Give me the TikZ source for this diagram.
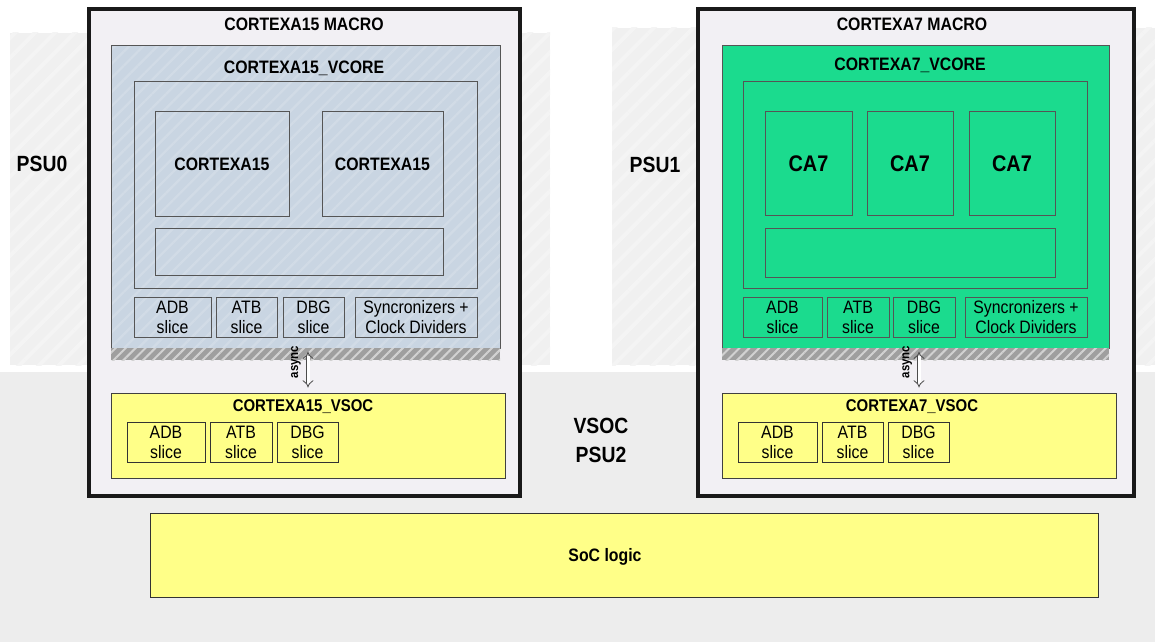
\documentclass[tikz,border=0pt]{standalone}
\usepackage{fontspec}
\setmainfont[FakeStretch=0.88]{Liberation Sans}
\usetikzlibrary{fit,patterns.meta,arrows.meta}
\definecolor{vcoreblue}{RGB}{201,213,226}
\definecolor{vcoregreen}{RGB}{27,219,142}
\definecolor{vsocyellow}{RGB}{255,255,136}
\definecolor{macrofill}{RGB}{242,240,244}
\definecolor{bandgray}{RGB}{237,237,237}
\definecolor{psugray}{RGB}{240,240,240}
\definecolor{boxline}{RGB}{85,85,85}

\begin{document}
\begin{tikzpicture}[x=0.5pt,y=-0.5pt,
	blk/.style={draw=boxline, line width=0.5pt, inner sep=0pt},
	slice/.style={blk},
	stext/.style={align=center, inner sep=0pt, font=\fontsize{9}{10}\selectfont},
	ttl/.style={font=\bfseries\fontsize{9}{10}\selectfont},
	cpu/.style={inner sep=0pt, font=\bfseries\fontsize{11.3}{12}\selectfont},
	psu/.style={font=\bfseries\fontsize{11}{12}\selectfont},
	band/.style={fill=psugray, postaction={pattern={Lines[angle=45,distance=7pt,line width=2pt]}, pattern color=white!25!psugray}},
	hatch/.style={inner sep=0pt, fill=gray!75, postaction={pattern={Lines[angle=45,distance=3.5pt,line width=1pt]}, pattern color=gray!35}},
	macro/.style={draw=black!90, line width=2pt, fill=macrofill, inner sep=0pt},
	sync/.style={double=white, draw=gray!60!black, double distance=1.5pt, line width=0.4pt, {Implies}-{Implies}, shorten <=2pt, shorten >=2.5pt}
	]

	\useasboundingbox (0,0) rectangle (1155,642);
	\fill[white] (0,0) rectangle (1155,642);
	\fill[bandgray] (0,372) rectangle (1155,642);
	\path[band] (10,33) rectangle (550,365);
	\path[band] (612,28) rectangle (1155,365);

	% CORTEXA15 side
	\node[macro, fit={(89,9) (520,496)}] (macro15) {};
	\node[ttl] (macro15title) at (304,24) {CORTEXA15 MACRO};

	\node[blk, preaction={fill=vcoreblue}, pattern={Lines[angle=45,distance=5pt,line width=1.2pt]}, pattern color=vcoreblue!85!white, fit={(111,46) (500,348)}] (vcore15) {};
	\node[hatch, fit={(111,348) (500,360)}] (hatch15) {};
	\node[ttl] (vcore15title) at (304,68) {CORTEXA15\_VCORE};

	\node[blk, fit={(134,82) (477,288)}] (cluster15) {};
	\node[blk, fit={(155,112) (289,216)}, label={[ttl]center:CORTEXA15}] (cpu15a) {};
	\node[blk, fit={(322,112) (443,216)}, label={[ttl]center:CORTEXA15}] (cpu15b) {};
	\node[blk, fit={(155,228) (443,275)}] (l2of15) {};

	\node[slice, fit={(134,297) (211,337)}, label={[stext]center:ADB\\slice}] (adb15) {};
	\node[slice, fit={(216,297) (277,337)}, label={[stext]center:ATB\\slice}] (atb15) {};
	\node[slice, fit={(283,297) (344,337)}, label={[stext]center:DBG\\slice}] (dbg15) {};
	\node[slice, fit={(355,297) (477,337)}, label={[stext]center:Syncronizers +\\Clock Dividers}] (clk15) {};

	\node[blk, draw=black!75, fill=vsocyellow, fit={(111,393) (505,478)}] (vsoc15) {};
	\node[ttl, font=\bfseries\fontsize{8.5}{10}\selectfont] (vsoc15title) at (303,407) {CORTEXA15\_VSOC};
	\node[slice, draw=black!80, fit={(127,422) (205,462)}, label={[stext]center:ADB\\slice}] (vadb15) {};
	\node[slice, draw=black!80, fit={(210,422) (272,462)}, label={[stext]center:ATB\\slice}] (vatb15) {};
	\node[slice, draw=black!80, fit={(277,422) (338,462)}, label={[stext]center:DBG\\slice}] (vdbg15) {};

	\draw[sync] (hatch15.north -| vsoc15.north) -- (vsoc15.north) node[midway, above=4pt, rotate=90, font=\bfseries\fontsize{6.5}{7}\selectfont] (async15) {async};

	% CORTEXA7 side
	\node[macro, fit={(698,9) (1134,496)}] (macro7) {};
	\node[ttl] (macro7title) at (912,24) {CORTEXA7 MACRO};

	\node[blk, fill=vcoregreen, fit={(722,46) (1109,348)}] (vcore7) {};
	\node[hatch, fit={(722,348) (1109,360)}] (hatch7) {};
	\node[ttl] (vcore7title) at (910,65) {CORTEXA7\_VCORE};

	\node[blk, fit={(743,82) (1087,288)}] (cluster7) {};
	\node[blk, fit={(765,112) (852,215)}, label={[cpu]center:CA7}] (cpu7a) {};
	\node[blk, fit={(867,112) (953,215)}, label={[cpu]center:CA7}] (cpu7b) {};
	\node[blk, fit={(969,112) (1055,215)}, label={[cpu]center:CA7}] (cpu7c) {};
	\node[blk, fit={(765,228) (1055,277)}] (l2of7) {};

	\node[slice, fit={(743,297) (822,337)}, label={[stext]center:ADB\\slice}] (adb7) {};
	\node[slice, fit={(827,297) (889,337)}, label={[stext]center:ATB\\slice}] (atb7) {};
	\node[slice, fit={(893,297) (955,337)}, label={[stext]center:DBG\\slice}] (dbg7) {};
	\node[slice, fit={(965,297) (1087,337)}, label={[stext]center:Syncronizers +\\Clock Dividers}] (clk7) {};

	\node[blk, draw=black!75, fill=vsocyellow, fit={(722,393) (1116,478)}] (vsoc7) {};
	\node[ttl, font=\bfseries\fontsize{8.5}{10}\selectfont] (vsoc7title) at (912,407) {CORTEXA7\_VSOC};
	\node[slice, draw=black!80, fit={(738,422) (817,462)}, label={[stext]center:ADB\\slice}] (vadb7) {};
	\node[slice, draw=black!80, fit={(822,422) (883,462)}, label={[stext]center:ATB\\slice}] (vatb7) {};
	\node[slice, draw=black!80, fit={(888,422) (949,462)}, label={[stext]center:DBG\\slice}] (vdbg7) {};

	\draw[sync] (hatch7.north -| vsoc7.north) -- (vsoc7.north) node[midway, above=4pt, rotate=90, font=\bfseries\fontsize{6.5}{7}\selectfont] (async7) {async};

	% supplies and SoC logic
	\node[psu] (psu0) at (42,164) {PSU0};
	\node[psu] (psu1) at (655,165) {PSU1};
	\node[psu] (vsoc) at (601,426) {VSOC};
	\node[psu] (psu2) at (601,455) {PSU2};

	\node[blk, draw=black!80, fill=vsocyellow, fit={(150,513) (1098,597)}] (soc) {};
	\node[ttl] (soctitle) at (605,557) {SoC logic};

\end{tikzpicture}
\end{document}
